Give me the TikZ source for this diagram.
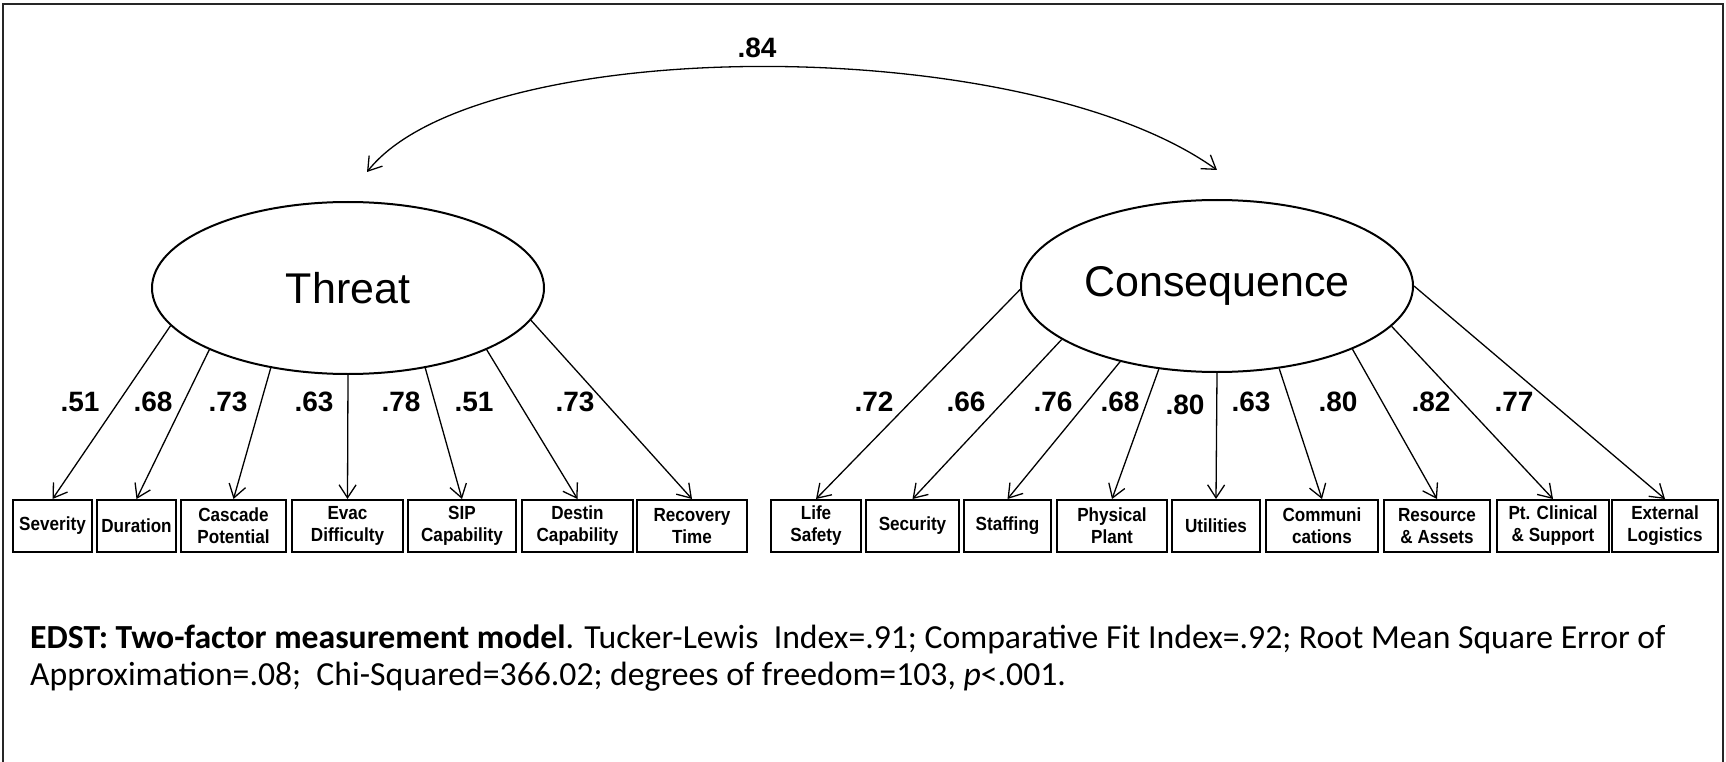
\documentclass[tikz,border=0pt]{standalone}
\usepackage{fontspec}
\setmainfont{Liberation Sans}
\newfontfamily\boxfont[FakeStretch=0.9]{Liberation Sans}
\newfontfamily\capfont{Carlito}
\usetikzlibrary{arrows.meta,shapes.geometric}

\begin{document}
\begin{tikzpicture}[x=1pt, y=-1pt,
  factor/.style={draw, ellipse, line width=2pt, minimum width=392pt, minimum height=172pt, inner sep=0pt, font=\fontsize{43}{50}\selectfont},
  ind/.style={draw, line width=2pt, minimum height=52pt, inner sep=1pt, align=center, font=\boxfont\fontsize{19}{22}\selectfont\bfseries},
  load/.style={line width=1.3pt, -{Straight Barb[length=13pt, width=17pt, line width=1.3pt]}},
  wt/.style={font=\fontsize{28}{30}\selectfont\bfseries}]

\useasboundingbox (0,0) rectangle (1726,762);

% Frame
\draw[line width=2pt, black!85] (3,762) -- (3,4) -- (1723,4) -- (1723,762);

% Latent factors
\node[factor] (T) at (348,288) {Threat};
\node[factor] (C) at (1217,286) {Consequence};

% Correlation between the factors
\draw[line width=1.3pt, {Straight Barb[length=13pt, width=17pt, line width=1.3pt]}-{Straight Barb[length=13pt, width=17pt, line width=1.3pt]}]
  ([xshift=19pt,yshift=29pt]T.north) .. controls +(110,-139) and +(-194,-139) .. ([yshift=29pt]C.north);
\node[wt] (r) at (757,48) {.84};

% Threat indicators
\node[ind, minimum width=79pt]  (sev) at (52.5,526) {Severity};
\node[ind, minimum width=79pt]  (dur) at (136.5,526) {Duration};
\node[ind, minimum width=105pt] (cas) at (233.5,526) {Cascade\\Potential};
\node[ind, minimum width=111pt] (eva) at (347.5,526) {Evac\\Difficulty};
\node[ind, minimum width=108pt] (sip) at (462,526) {SIP\\Capability};
\node[ind, minimum width=111pt] (des) at (577.5,526) {Destin\\Capability};
\node[ind, minimum width=110pt] (rec) at (692,526) {Recovery\\Time};

% Consequence indicators
\node[ind, minimum width=90pt]  (lif) at (816,526) {Life\\Safety};
\node[ind, minimum width=93pt]  (sec) at (912.5,526) {Security};
\node[ind, minimum width=87pt]  (sta) at (1007.5,526) {Staffing};
\node[ind, minimum width=110pt] (phy) at (1112,526) {Physical\\Plant};
\node[ind, minimum width=88pt]  (uti) at (1216,526) {Utilities};
\node[ind, minimum width=112pt] (com) at (1322,526) {Communi\\cations};
\node[ind, minimum width=106pt] (res) at (1437,526) {Resource\\\& Assets};
\node[ind, minimum width=112pt] (pcs) at (1553,526) {Pt. Clinical\\\& Support};
\node[ind, minimum width=106pt] (ext) at (1665,526) {External\\Logistics};

% Threat loadings
\draw[load] (T.192) -- (sev.north);
\draw[load] (T.204) -- (dur.north);
\draw[load] (T.226) -- (cas.north);
\draw[load] (T.270) -- (eva.north);
\draw[load] (T.314) -- (sip.north);
\draw[load] (T.336) -- (des.north);
\draw[load] (T.350) -- (rec.north);

\node[wt] (wsev) at (80,402) {.51};
\node[wt] (wdur) at (153,402) {.68};
\node[wt] (wcas) at (228,402) {.73};
\node[wt] (weva) at (314,402) {.63};
\node[wt] (wsip) at (401,402) {.78};
\node[wt] (wdes) at (474,402) {.51};
\node[wt] (wrec) at (575,402) {.73};

% Consequence loadings
\draw[load] (C.181) -- (lif.north);
\draw[load] (C.199) -- (sec.north);
\draw[load] (C.218) -- (sta.north);
\draw[load] (C.235) -- (phy.north);
\draw[load] (C.270) -- (uti.north);
\draw[load] (C.307) -- (com.north);
\draw[load] (C.335) -- (res.north);
\draw[load] (C.347) -- (pcs.north);
\draw[load] (C.0)   -- (ext.north);

\node[wt] (wlif) at (874,402) {.72};
\node[wt] (wsec) at (966,402) {.66};
\node[wt] (wsta) at (1053,402) {.76};
\node[wt] (wphy) at (1120,402) {.68};
\node[wt] (wuti) at (1185,405) {.80};
\node[wt] (wcom) at (1251,402) {.63};
\node[wt] (wres) at (1338,402) {.80};
\node[wt] (wpcs) at (1431,402) {.82};
\node[wt] (wext) at (1514,402) {.77};

% Caption
\node[anchor=base west, align=left, inner sep=0pt, font=\capfont\fontsize{33.7}{37}\selectfont] (cap) at (30,685)
  {\textbf{EDST: Two-factor measurement model}. Tucker-Lewis\ \ Index=.91; Comparative Fit Index=.92; Root Mean Square Error of\\
   Approximation=.08;\ \ Chi-Squared=366.02; degrees of freedom=103, \textit{p}<.001.};

\end{tikzpicture}
\end{document}
